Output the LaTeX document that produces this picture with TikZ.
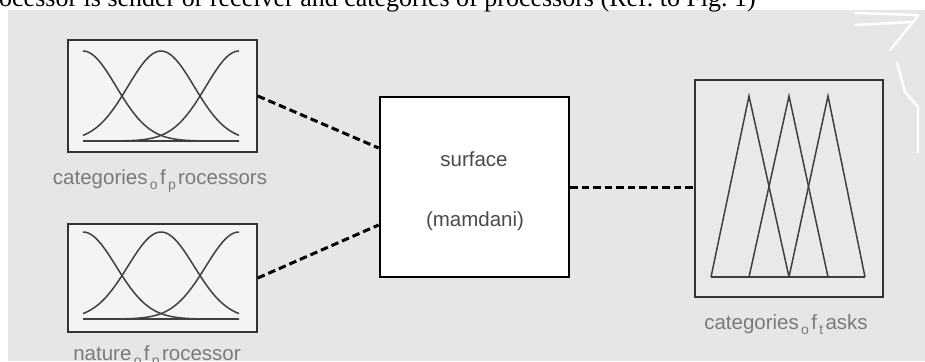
\documentclass[tikz,border=0pt]{standalone}
\usepackage{fontspec}
\setmainfont{Liberation Serif}
\newfontfamily\labfont{Liberation Sans}
\definecolor{bggray}{HTML}{E6E6E6}
\definecolor{boxfill}{HTML}{F4F4F4}
\definecolor{rfill}{HTML}{E9E9E9}
\definecolor{labgray}{HTML}{7A7A7A}
\definecolor{surfgray}{HTML}{4A4A4A}
\newcommand{\lowsub}[1]{\raisebox{-5pt}{\fontsize{14}{14}\selectfont\,#1\,}}
\begin{document}
\begin{tikzpicture}[x=1pt,y=-1pt,
  inbox/.style={draw=black!80, line width=1.6pt, inner sep=0pt},
  surfbox/.style={draw=black, line width=2.8pt, fill=white, inner sep=0pt},
  conn/.style={draw=black, line width=3pt, dash pattern=on 7.5pt off 4pt},
  mfcurve/.style={draw=black!75, line width=1.5pt},
  lab/.style={font=\labfont\fontsize{20.5}{20.5}\selectfont, text=labgray, anchor=base, inner sep=0pt},
  stext/.style={font=\labfont\fontsize{20.5}{20.5}\selectfont, text=surfgray, anchor=base, inner sep=0pt},
  scribble/.style={draw=white, line width=2.4pt, line cap=round, line join=round}]
\useasboundingbox (0,0) rectangle (925,361);
\fill[white] (0,0) rectangle (925,361);
\fill[bggray] (8,10) rectangle (925,361);
% caption fragment at top
\node[anchor=base west, inner sep=0pt, font=\fontsize{26}{26}\selectfont] (cap) at (-1,7)
  {ocessor is sender or receiver and categories of processors (Ref.\ to Fig.\ 1)};
% boxes
\node[inbox, fill=boxfill, minimum width=189pt, minimum height=112pt] (b1) at (162.5,96) {};
\node[inbox, fill=boxfill, minimum width=189pt, minimum height=108pt] (b2) at (162.5,278) {};
\node[surfbox, minimum width=189pt, minimum height=180pt] (srf) at (474.5,187) {};
\node[inbox, fill=rfill, minimum width=188pt, minimum height=217pt] (rb) at (789,188.5) {};
% gaussian membership functions
\foreach \c in {83,161,239}{
  \draw[mfcurve] plot[domain=83:239, samples=70, smooth] (\x,{141-90*exp(-0.5*((\x-\c)/33.1)^2)});
  \draw[mfcurve] plot[domain=83:239, samples=70, smooth] (\x,{319-87*exp(-0.5*((\x-\c)/33.1)^2)});
}
\draw[mfcurve] (83,141) -- (239,141);
\draw[mfcurve] (83,319) -- (239,319);
% triangular membership functions
\draw[mfcurve] (711,277) -- (749,96) -- (789,277);
\draw[mfcurve] (749,277) -- (789,96) -- (828,277);
\draw[mfcurve] (789,277) -- (828,96) -- (865,277);
\draw[mfcurve] (711,277) -- (865,277);
% connectors
\draw[conn] (b1.east) -- ([yshift=39pt]srf.west);
\draw[conn] (b2.east) -- ([yshift=-38pt]srf.west);
\draw[conn] (srf.east) -- (srf.east -| rb.west);
% labels
\node[lab] (l1) at (160,184) {categories\lowsub{o}f\lowsub{p}rocessors};
\node[lab] (l2) at (157,360) {nature\lowsub{o}f\lowsub{p}rocessor};
\node[lab] (l3) at (786,329) {categories\lowsub{o}f\lowsub{t}asks};
\node[stext] (s1) at (474,166) {surface};
\node[stext] (s2) at (475,226) {(mamdani)};
% white scribbles
\draw[scribble] (855,13) -- (918,15);
\draw[scribble] (855,25) -- (912,22);
\draw[scribble] (918,16) -- (890,50);
\draw[scribble] (897,63) -- (905,92) -- (918,107) -- (918,152);
\end{tikzpicture}
\end{document}
